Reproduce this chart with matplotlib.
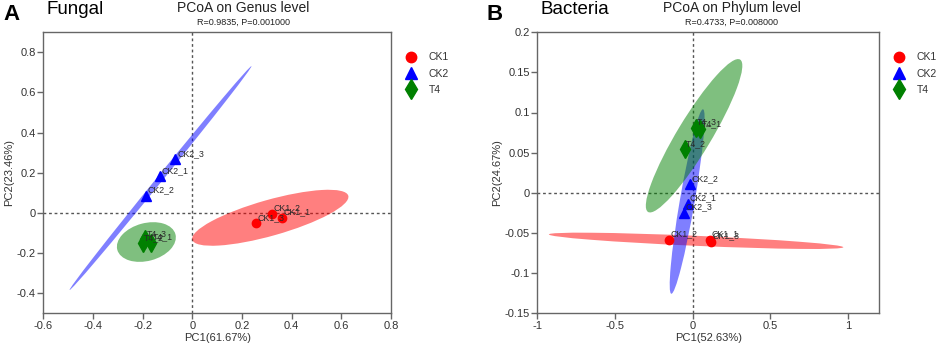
import matplotlib
matplotlib.use("Agg")
import matplotlib.pyplot as plt
from matplotlib.patches import Circle
from matplotlib.lines import Line2D
from matplotlib.transforms import Affine2D
from matplotlib.ticker import FormatStrFormatter

plt.rcParams['font.family'] = ['Liberation Sans', 'DejaVu Sans']
plt.rcParams['axes.unicode_minus'] = False

groups = ['CK1', 'CK2', 'T4']
colors = {'CK1': '#FF0000', 'CK2': '#0000FF', 'T4': '#008000'}
markers = {'CK1': 'o', 'CK2': '^', 'T4': 'd'}
msizes = {'CK1': 6, 'CK2': 7, 'T4': 9}

# panel A: fungal, genus level
fungal_labels = ['CK1_1', 'CK1_2', 'CK1_3', 'CK2_1', 'CK2_2', 'CK2_3', 'T4_1', 'T4_2', 'T4_3']
fungal_pc1 = [0.36, 0.32, 0.257, -0.129, -0.188, -0.068, -0.165, -0.2, -0.19]
fungal_pc2 = [-0.026, -0.007, -0.053, 0.181, 0.083, 0.267, -0.15, -0.152, -0.132]
# ellipses: centre, major half-vector, minor half-vector (data units)
fungal_ell_center = {'CK1': (0.314, -0.025), 'CK2': (-0.128, 0.173), 'T4': (-0.185, -0.146)}
fungal_ell_major = {'CK1': (0.314, 0.11), 'CK2': (0.366, 0.558), 'T4': (0.117, 0.039)}
fungal_ell_minor = {'CK1': (-0.02, 0.086), 'CK2': (0.0094, -0.0093), 'T4': (-0.02, 0.091)}

# panel B: bacteria, phylum level
bact_labels = ['CK1_1', 'CK1_2', 'CK1_3', 'CK2_1', 'CK2_2', 'CK2_3', 'T4_1', 'T4_2', 'T4_3']
bact_pc1 = [0.108, -0.155, 0.115, -0.033, -0.016, -0.055, 0.048, -0.053, 0.018]
bact_pc2 = [-0.059, -0.059, -0.061, -0.0138, 0.0104, -0.0255, 0.079, 0.054, 0.081]
bact_ell_center = {'CK1': (0.0215, -0.06), 'CK2': (-0.036, -0.011), 'T4': (0.0085, 0.071)}
bact_ell_major = {'CK1': (0.947, -0.008), 'CK2': (0.102, 0.115), 'T4': (0.296, 0.095)}
bact_ell_minor = {'CK1': (0.0014, 0.00625), 'CK2': (0.047, -0.0016), 'T4': (0.0936, -0.011)}


def draw_panel(ax, labels, pc1, pc2, ecent, emaj, emin, xlim, ylim, xticks, yticks, xlab, ylab):
    ax.axhline(0, color='#555555', ls=(0, (2, 2)), lw=1, zorder=1)
    ax.axvline(0, color='#555555', ls=(0, (2, 2)), lw=1, zorder=1)
    for g in groups:
        cx, cy = ecent[g]
        ux, uy = emaj[g]
        vx, vy = emin[g]
        c = Circle((0, 0), 1, facecolor=colors[g], edgecolor='none', alpha=0.5, zorder=2)
        c.set_transform(Affine2D.from_values(ux, uy, vx, vy, cx, cy) + ax.transData)
        ax.add_patch(c)
    for lab, x, y in zip(labels, pc1, pc2):
        g = lab.split('_')[0]
        ax.plot(x, y, marker=markers[g], color=colors[g], ms=msizes[g], ls='none', zorder=3)
        ax.annotate(lab, (x, y), xytext=(1.2, 4.3), textcoords='offset points',
                    fontsize=6.3, color='#2a2a2a', va='center', ha='left', zorder=4)
    ax.set_xlim(xlim)
    ax.set_ylim(ylim)
    ax.set_xticks(xticks)
    ax.set_yticks(yticks)
    ax.xaxis.set_major_formatter(FormatStrFormatter('%g'))
    ax.yaxis.set_major_formatter(FormatStrFormatter('%g'))
    for s in ax.spines.values():
        s.set_color('#666666')
        s.set_linewidth(1)
    ax.tick_params(direction='out', length=4, width=1, color='#666666',
                   labelsize=8, labelcolor='#333333', pad=1.5)
    ax.set_xlabel(xlab, fontsize=8, color='#333333', labelpad=2)
    ax.set_ylabel(ylab, fontsize=8, color='#333333', labelpad=2)
    handles = [Line2D([], [], marker=markers[g], color=colors[g], ls='none',
                      ms={'CK1': 7.5, 'CK2': 8.5, 'T4': 10}[g]) for g in groups]
    ax.legend(handles, groups, loc='upper left', bbox_to_anchor=(1.0, 0.977), frameon=False,
              fontsize=7.5, labelspacing=0.6, handletextpad=1.1, borderaxespad=0.9,
              labelcolor='#333333', handlelength=1.2)


W, H = 941, 347
fig = plt.figure(figsize=(W / 100, H / 100), dpi=100)
axA = fig.add_axes([43.3 / W, (H - 313) / H, (391 - 43.3) / W, (313 - 32.3) / H])
axB = fig.add_axes([537.3 / W, (H - 313) / H, (879.3 - 537.3) / W, (313 - 32.3) / H])

draw_panel(axA, fungal_labels, fungal_pc1, fungal_pc2, fungal_ell_center, fungal_ell_major,
           fungal_ell_minor, (-0.6, 0.8), (-0.5, 0.9),
           [-0.6, -0.4, -0.2, 0, 0.2, 0.4, 0.6, 0.8], [-0.4, -0.2, 0, 0.2, 0.4, 0.6, 0.8],
           'PC1(61.67%)', 'PC2(23.46%)')
draw_panel(axB, bact_labels, bact_pc1, bact_pc2, bact_ell_center, bact_ell_major,
           bact_ell_minor, (-1, 1.2), (-0.15, 0.2),
           [-1, -0.5, 0, 0.5, 1], [-0.15, -0.1, -0.05, 0, 0.05, 0.1, 0.15, 0.2],
           'PC1(52.63%)', 'PC2(24.67%)')

# panel headings
fig.text(3 / W, 1 - 15 / H, 'A', fontsize=16, fontweight='bold', va='center', ha='left')
fig.text(47 / W, 1 - 9 / H, 'Fungal', fontsize=13.5, va='center', ha='left')
fig.text(243 / W, 1 - 8 / H, 'PCoA on Genus level', fontsize=10, color='#222222', va='center', ha='center')
fig.text(243.5 / W, 1 - 22 / H, 'R=0.9835, P=0.001000', fontsize=6.5, color='#222222', va='center', ha='center')

fig.text(486 / W, 1 - 15 / H, 'B', fontsize=16, fontweight='bold', va='center', ha='left')
fig.text(540 / W, 1 - 9 / H, 'Bacteria', fontsize=13.5, va='center', ha='left')
fig.text(731.5 / W, 1 - 8 / H, 'PCoA on Phylum level', fontsize=10, color='#222222', va='center', ha='center')
fig.text(731.5 / W, 1 - 22 / H, 'R=0.4733, P=0.008000', fontsize=6.5, color='#222222', va='center', ha='center')

fig.savefig('out.png', dpi=100)
